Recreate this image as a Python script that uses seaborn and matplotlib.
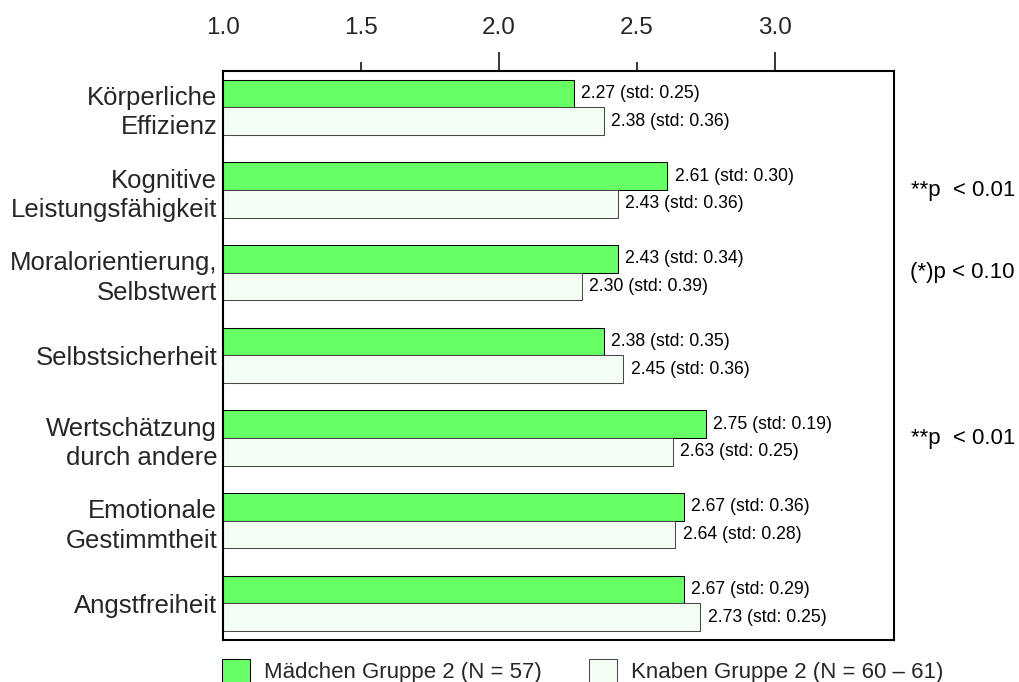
import matplotlib
matplotlib.use("Agg")
import matplotlib.pyplot as plt
import matplotlib.patches as mpatches
import matplotlib.transforms as mtransforms
import numpy as np
import pandas as pd
import seaborn as sns

# --- data -------------------------------------------------------------------
skalen = [
    "Körperliche\nEffizienz",
    "Kognitive\nLeistungsfähigkeit",
    "Moralorientierung,\nSelbstwert",
    "Selbstsicherheit",
    "Wertschätzung\ndurch andere",
    "Emotionale\nGestimmtheit",
    "Angstfreiheit",
]
maedchen_mw = [2.27, 2.61, 2.43, 2.38, 2.75, 2.67, 2.67]
maedchen_std = [0.25, 0.30, 0.34, 0.35, 0.19, 0.36, 0.29]
knaben_mw = [2.38, 2.43, 2.30, 2.45, 2.63, 2.64, 2.73]
knaben_std = [0.36, 0.36, 0.39, 0.36, 0.25, 0.28, 0.25]
signifikanz = ["", "**p  < 0.01", "(*)p < 0.10", "", "**p  < 0.01", "", ""]
gruppen = ["Mädchen Gruppe 2 (N = 57)", "Knaben Gruppe 2 (N = 60 – 61)"]
x_ticks = [1.0, 1.5, 2.0, 2.5, 3.0]
x_ticklabels = ["1.0", "1.5", "2.0", "2.5", "3.0"]

df = pd.DataFrame({
    "Skala": skalen * 2,
    "Wert": maedchen_mw + knaben_mw,
    "Std": maedchen_std + knaben_std,
    "Gruppe": [gruppen[0]] * len(skalen) + [gruppen[1]] * len(skalen),
})

# --- style ------------------------------------------------------------------
sns.set_style("white")
plt.rcParams["font.family"] = ["Liberation Sans", "DejaVu Sans"]

farben = ["#66FF66", "#F3FDF3"]
kanten = ["#000000", "#4A4A4A"]

fig = plt.figure(figsize=(10.2, 6.82), dpi=100)
ax = fig.add_axes([0.2191, 0.0616, 0.8765 - 0.2191, 0.8963 - 0.0616])

sns.barplot(
    data=df, x="Wert", y="Skala", hue="Gruppe", orient="h",
    palette=farben, width=0.668, errorbar=None, ax=ax,
    linewidth=0.75, saturation=1,
)
if ax.get_legend() is not None:
    ax.get_legend().remove()

for cont, kante in zip(ax.containers, kanten):
    for bar in cont.patches:
        bar.set_edgecolor(kante)
        bar.set_linewidth(0.75)

ax.set_xlim(1.0, 3.433)
ax.set_ylim(len(skalen) - 1 + 0.443, -0.443)
ax.set_xlabel("")
ax.set_ylabel("")

# value labels next to each bar
for cont, stds in zip(ax.containers, [maedchen_std, knaben_std]):
    for bar, s in zip(cont.patches, stds):
        v = bar.get_x() + bar.get_width()
        yc = bar.get_y() + bar.get_height() / 2
        ax.annotate(f"{v:.2f} (std: {s:.2f})", xy=(v, yc),
                    xytext=(5.5, 0), textcoords="offset points",
                    ha="left", va="center", fontsize=12.7, color="black")

# significance notes at the right margin
trans = mtransforms.blended_transform_factory(fig.transFigure, ax.transData)
for i, txt in enumerate(signifikanz):
    if txt:
        ax.text(0.995, i, txt, transform=trans, ha="right", va="center",
                fontsize=16, color="black", clip_on=False)

# spines
for sp in ax.spines.values():
    sp.set_visible(True)
    sp.set_color("black")
    sp.set_linewidth(1.5)

# x axis on top
ax.xaxis.tick_top()
ax.set_xticks(x_ticks)
ax.set_xticklabels(x_ticklabels)
ax.tick_params(axis="x", which="major", direction="out", length=13.7,
               width=1.1, color="black", pad=9.5, labelsize=17.5,
               top=True, bottom=False, labeltop=True, labelbottom=False)
ax.tick_params(axis="y", which="both", length=0, pad=4.5, labelsize=18.5)
for lab in ax.get_yticklabels():
    lab.set_linespacing(1.28)

# short ticks at the half steps, none at the left edge
for t, pos in zip(ax.xaxis.get_major_ticks(), x_ticks):
    if pos == x_ticks[0]:
        t.tick2line.set_visible(False)
    elif abs(pos - round(pos)) > 1e-9:
        t.tick2line.set_markersize(6.5)

# legend below the plot
handles = [mpatches.Patch(facecolor=f, edgecolor=k, linewidth=0.75)
           for f, k in zip(farben, kanten)]
fig.legend(handles, gruppen, loc="upper left",
           bbox_to_anchor=(222 / 1020, 1 - 659 / 682), ncol=2,
           frameon=False, borderpad=0, borderaxespad=0, fontsize=16,
           handlelength=1.27, handleheight=1.27, handletextpad=0.64,
           columnspacing=2.1)

fig.savefig("out.png", dpi=100, facecolor="white")
